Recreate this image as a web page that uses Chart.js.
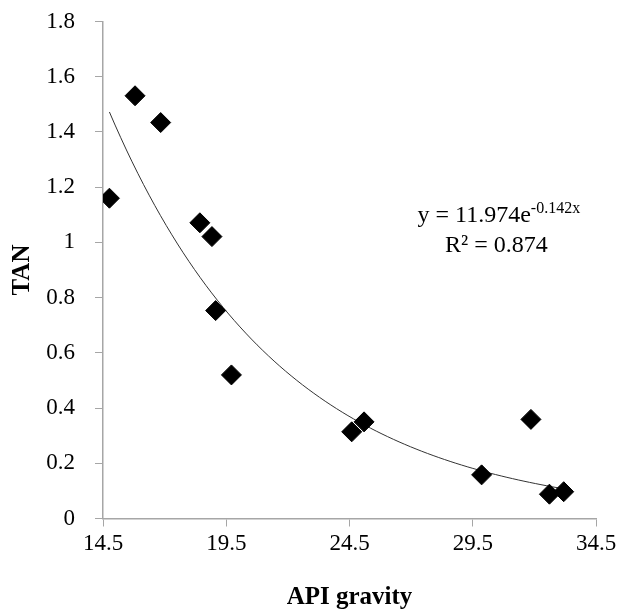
<!DOCTYPE html>
<html><head><meta charset="utf-8">
<script src="https://cdn.jsdelivr.net/npm/chart.js@4/dist/chart.umd.min.js"></script>
<style>html,body{margin:0;padding:0;background:#fff}#wrap{width:642px;height:612px}</style>
</head><body><div id="wrap"><canvas id="c" width="642" height="612"></canvas></div>
<script>
const apiGravity = [14.76, 15.80, 16.84, 18.43, 18.92, 19.07, 19.71, 24.59, 25.09, 29.86, 31.86, 32.61, 33.19];
const tan = [1.160, 1.531, 1.434, 1.071, 1.021, 0.753, 0.520, 0.314, 0.350, 0.158, 0.359, 0.088, 0.097];
const xTicks = [14.5, 19.5, 24.5, 29.5, 34.5];
const yTicks = [0, 0.2, 0.4, 0.6, 0.8, 1, 1.2, 1.4, 1.6, 1.8];
// exponential trendline shown on the chart: y = 11.974 e^(-0.142x)
const trendA = 11.974;
const trendB = -0.142;
const eqLine1 = ['y = 11.974e', '-0.142x'];
const eqLine2 = ['R\u00B2 = 0.874'];

const scatterPts = apiGravity.map((x, i) => ({x, y: tan[i]}));
const xMin = Math.min(...apiGravity), xMax = Math.max(...apiGravity);
const trendPts = [];
for (let i = 0; i <= 80; i++) {
  const x = xMin + (xMax - xMin) * i / 80;
  trendPts.push({x, y: trendA * Math.exp(trendB * x)});
}

const FONT = "'Liberation Serif', 'DejaVu Serif', serif";
const axisColor = '#a6a6a6';

const eqPlugin = {
  id: 'eq',
  afterDraw(chart) {
    const ctx = chart.ctx;
    const xs = chart.scales.x, ys = chart.scales.y;
    ctx.save();
    ctx.fillStyle = '#000';
    ctx.textBaseline = 'alphabetic';
    function drawParts(parts, cx, baseY) {
      const big = "24px " + FONT, small = "16px " + FONT;
      const widths = parts.map((p, i) => { ctx.font = (i === 1) ? small : big; return ctx.measureText(p).width; });
      const total = widths.reduce((a, b) => a + b, 0);
      let x = cx - total / 2;
      parts.forEach((p, i) => {
        ctx.font = (i === 1) ? small : big;
        ctx.fillText(p, x, i === 1 ? baseY - 9 : baseY);
        x += widths[i];
      });
    }
    drawParts(eqLine1, xs.getPixelForValue(30.56), ys.getPixelForValue(1.075));
    drawParts(eqLine2, xs.getPixelForValue(30.46), ys.getPixelForValue(0.966));
    ctx.restore();
  }
};

new Chart(document.getElementById('c'), {
  type: 'scatter',
  data: {
    datasets: [
      {
        data: trendPts, showLine: true, pointRadius: 0, borderColor: '#333',
        borderWidth: 1, fill: false, tension: 0, order: 2
      },
      {
        data: scatterPts, pointStyle: 'rectRot', pointRadius: 10,
        backgroundColor: '#000', borderColor: '#000', borderWidth: 1, order: 1
      }
    ]
  },
  options: {
    responsive: false, animation: false, devicePixelRatio: 1,
    layout: {padding: {top: 21.5, right: 46, left: 0, bottom: 0}},
    plugins: {legend: {display: false}, tooltip: {enabled: false}},
    scales: {
      x: {
        type: 'linear', min: 14.5, max: 34.5,
        afterFit(s) { s.height = 93.5; s.paddingLeft = 0; s.paddingRight = 0; },
        afterBuildTicks(s) { s.ticks = xTicks.map(v => ({value: v})); },
        ticks: {color: '#000', font: {family: FONT, size: 23}, padding: 4,
          callback: v => v.toFixed(1)},
        grid: {display: true, drawOnChartArea: false, tickLength: 8, color: axisColor},
        border: {color: axisColor, width: 1.5},
        title: {display: true, text: 'API gravity', color: '#000',
          font: {family: FONT, size: 25, weight: 'bold'}, padding: {top: 0, bottom: -1}}
      },
      y: {
        type: 'linear', min: 0, max: 1.8,
        afterFit(s) { s.width = 103; s.paddingTop = 0; s.paddingBottom = 0; },
        afterBuildTicks(s) { s.ticks = yTicks.map(v => ({value: v})); },
        ticks: {color: '#000', font: {family: FONT, size: 23}, padding: 20,
          callback: v => String(Math.round(v * 10) / 10)},
        grid: {display: true, drawOnChartArea: false, tickLength: 8, color: axisColor},
        border: {color: axisColor, width: 1.5},
        title: {display: true, text: 'TAN', color: '#000',
          font: {family: FONT, size: 25, weight: 'bold'}, padding: {top: 8, bottom: 0}}
      }
    }
  },
  plugins: [eqPlugin]
});
</script></body></html>
